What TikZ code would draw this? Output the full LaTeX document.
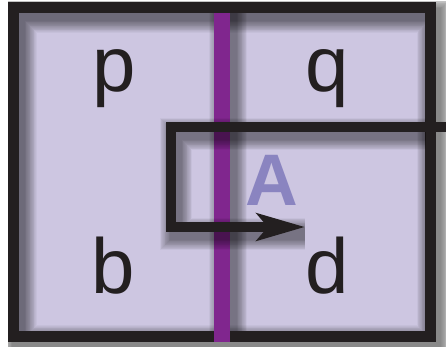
\documentclass[tikz,border=0pt]{standalone}
\usepackage{fontspec}
\setmainfont{Liberation Sans}
\usetikzlibrary{arrows.meta}
\definecolor{lav}{RGB}{205,198,225}
\definecolor{plum}{RGB}{128,38,142}
\definecolor{ink}{RGB}{35,31,32}
\definecolor{aclr}{RGB}{138,132,192}
\begin{document}
\begin{tikzpicture}[x=1pt,y=-1pt,
  letter/.style={font=\fontsize{78}{78}\selectfont, text=ink, anchor=base, inner sep=0pt},
  bigA/.style={font=\fontsize{73}{73}\selectfont\bfseries, text=aclr, anchor=base, inner sep=0pt},
  shade/.style={black, opacity=0.036}]
\useasboundingbox (0,0) rectangle (446,347);
\fill[white] (0,0) rectangle (446,347);
\coordinate (tl) at (13.5,7.5);
\coordinate (br) at (430,336.5);
\coordinate (bt) at (222,13);
\coordinate (bb) at (222,342);
\coordinate (e) at (446,127);
\coordinate (c1) at (171,127);
\coordinate (c2) at (171,227);
\coordinate (tip) at (305,227);
% lavender panel
\fill[lav] (tl) rectangle (br);
% frame shadow (inside on top/left, outside on right/bottom)
\begin{scope}
  \clip (8,2) rectangle (446,347);
  \foreach \i in {1,...,16}
    \draw[shade, line width={(11+1.6*\i)*1pt}] ([shift={(5,7)}]tl) rectangle ([shift={(5,7)}]br);
\end{scope}
% purple bar shadow
\foreach \i in {1,...,14}
  \draw[shade, line width={(16+1.6*\i)*1pt}] ([xshift=6pt]bt) -- ([xshift=6pt]bb);
% frame
\draw[ink, line width=11pt] (tl) rectangle (br);
% purple bar
\draw[plum, line width=16pt] (bt) -- (bb);
% inner path shadow
\begin{scope}
  \clip (19,13) rectangle (425,331);
  \foreach \i in {1,...,14}
    \draw[shade, line width={(10+1.6*\i)*1pt}] ([shift={(5,7)}]e) -- ([shift={(5,7)}]c1) -- ([shift={(5,7)}]c2) -- ([shift={(0,7)}]tip);
\end{scope}
% inner path with arrow
\draw[ink, line width=10pt, line join=miter, -{Stealth[length=48pt,width=27pt,inset=11pt]}] (e) -- (c1) -- (c2) -- (tip);
% labels
\node[letter] (p) at (114,92) {p};
\node[letter] (q) at (327,92) {q};
\node[letter] (b) at (113,293) {b};
\node[letter] (d) at (327,293) {d};
\node[bigA] (A) at (271.5,205) {A};
\end{tikzpicture}
\end{document}
